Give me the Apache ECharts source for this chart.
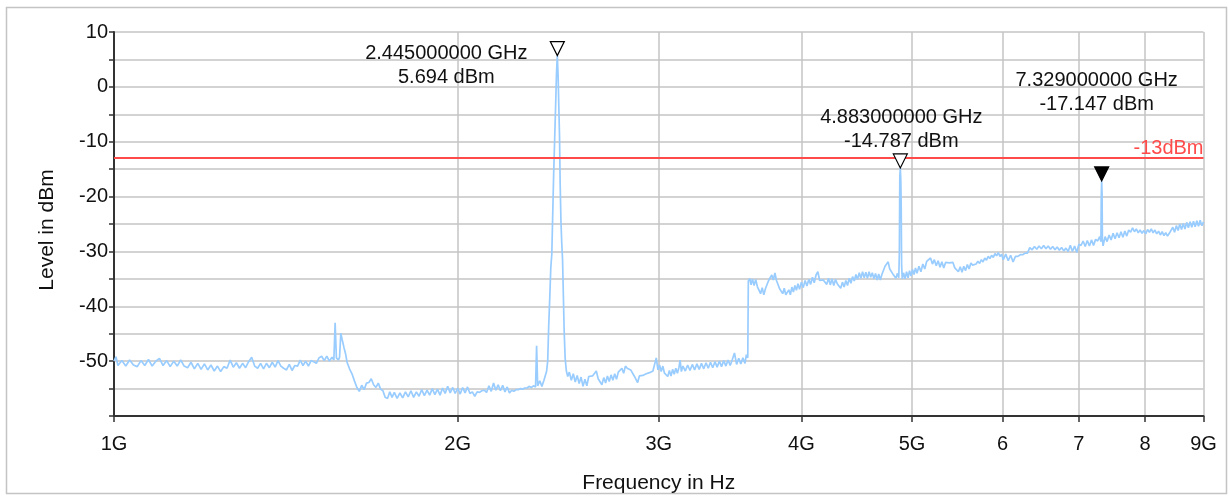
<!DOCTYPE html>
<html>
<head>
<meta charset="utf-8">
<script src="https://cdn.jsdelivr.net/npm/echarts@6/dist/echarts.min.js"></script>
<style>
  html, body { margin: 0; padding: 0; background: #ffffff; }
  #chart { width: 1230px; height: 496px; }
</style>
</head>
<body>
<div id="chart"></div>
<script>
// Spectrum sweep, 1 GHz .. 9 GHz, level in dBm. Pairs are [frequency GHz, level dBm].
const traceLowBand = [
  [1.000,-50.0],[1.004,-49.2],[1.008,-50.8],[1.016,-49.9],[1.024,-50.9],[1.032,-49.8],[1.040,-50.7],[1.048,-51.0],
  [1.056,-49.9],[1.064,-50.8],[1.072,-49.7],[1.080,-50.9],[1.088,-50.0],[1.096,-49.5],[1.104,-50.8],[1.112,-49.9],
  [1.120,-51.0],[1.128,-50.0],[1.136,-50.9],[1.144,-49.8],[1.152,-50.9],[1.160,-51.2],[1.168,-50.2],[1.176,-51.4],
  [1.184,-50.4],[1.192,-51.5],[1.200,-50.5],[1.208,-51.6],[1.216,-50.7],[1.224,-51.8],[1.232,-50.9],[1.240,-51.9],
  [1.248,-51.0],[1.256,-51.3],[1.264,-49.8],[1.272,-51.1],[1.280,-50.3],[1.288,-51.3],[1.296,-50.4],[1.304,-51.2],
  [1.312,-50.1],[1.320,-49.3],[1.328,-50.9],[1.336,-51.3],[1.344,-50.4],[1.352,-51.4],[1.360,-50.4],[1.368,-51.2],
  [1.376,-50.2],[1.384,-51.1],[1.392,-49.9],[1.400,-50.9],[1.408,-51.3],[1.416,-51.6],[1.424,-50.6],[1.432,-51.7],
  [1.440,-50.8],[1.448,-50.9],[1.456,-49.8],[1.464,-50.8],[1.472,-50.0],[1.480,-50.9],[1.488,-49.9],[1.496,-50.1],
  [1.504,-50.4],[1.512,-49.4],[1.520,-49.1],[1.528,-49.9],[1.536,-49.1],[1.544,-50.0],[1.552,-49.3],[1.558,-49.8],
  [1.562,-43.0],[1.566,-49.4],[1.572,-49.8],[1.576,-49.3],[1.580,-44.9],[1.584,-46.0],[1.590,-47.5],[1.595,-48.6]
];

const traceFloor = [
  [1.600,-50.2],[1.608,-51.4],[1.616,-52.3],[1.624,-53.6],[1.632,-54.8],[1.640,-55.5],[1.648,-54.4],[1.656,-55.2],
  [1.664,-54.0],[1.672,-53.9],[1.680,-53.2],[1.688,-54.3],[1.696,-54.8],[1.704,-54.0],[1.712,-55.1],[1.720,-55.4],
  [1.728,-56.6],[1.736,-56.8],[1.744,-55.6],[1.752,-56.6],[1.760,-55.7],[1.770,-56.8],[1.780,-55.8],[1.790,-56.7],
  [1.800,-55.6],[1.810,-56.5],[1.820,-55.4],[1.830,-56.6],[1.840,-55.6],[1.850,-56.4],[1.860,-55.2],[1.870,-56.3],
  [1.880,-55.3],[1.890,-56.2],[1.900,-55.0],[1.910,-56.1],[1.920,-55.1],[1.930,-56.2],[1.940,-54.9],[1.950,-55.9],
  [1.960,-54.6],[1.970,-55.8],[1.980,-54.8],[1.990,-55.9],[2.000,-54.9],[2.010,-56.0],[2.020,-54.8],[2.030,-55.8],
  [2.040,-54.7],[2.050,-55.9],[2.060,-55.6],[2.070,-56.4],[2.080,-55.6],[2.090,-55.7],[2.100,-55.4],[2.110,-55.3],
  [2.120,-55.7],[2.130,-54.5],[2.140,-55.5],[2.150,-54.0],[2.160,-55.3],[2.170,-54.3],[2.180,-55.4],[2.190,-54.4],
  [2.200,-55.6],[2.210,-54.7],[2.220,-55.8],[2.230,-55.3],[2.240,-55.5],[2.250,-55.2],[2.260,-55.2],[2.270,-55.0],
  [2.280,-55.1],[2.290,-54.9],[2.300,-54.9],[2.310,-54.6],[2.320,-54.8],[2.330,-54.5],[2.340,-54.7],[2.345,-47.2],
  [2.350,-54.5],[2.360,-53.6],[2.370,-54.6],[2.380,-53.5],[2.388,-53.6],[2.393,-51.8]
];

const traceCarrier = [
  [2.398,-50.0],[2.403,-43.5],[2.408,-38.5],[2.413,-33.0],[2.418,-30.5],[2.422,-24.0],[2.427,-16.0],[2.432,-9.5],
  [2.437,-3.0],[2.441,2.5],[2.445,5.694],[2.449,2.0],[2.453,-4.5],[2.456,-9.0],[2.459,-17.5],[2.463,-24.5],
  [2.467,-28.5],[2.471,-31.5],[2.475,-38.0],[2.479,-44.5],[2.484,-49.5],[2.490,-51.8],[2.497,-52.8]
];

const traceMidBand = [
  [2.505,-52.0],[2.515,-53.5],[2.525,-52.3],[2.535,-53.8],[2.545,-52.6],[2.555,-54.1],[2.565,-52.9],[2.575,-54.6],
  [2.585,-53.3],[2.595,-54.5],[2.605,-52.8],[2.615,-52.8],[2.625,-52.7],[2.635,-52.5],[2.645,-51.8],[2.655,-53.2],
  [2.665,-53.2],[2.675,-54.3],[2.685,-53.0],[2.695,-54.0],[2.705,-52.7],[2.715,-53.7],[2.725,-52.5],[2.735,-53.5],
  [2.745,-52.3],[2.755,-53.3],[2.765,-52.0],[2.775,-52.3],[2.785,-51.3],[2.795,-52.2],[2.805,-50.9],[2.815,-51.3],
  [2.825,-51.3],[2.835,-51.6],[2.845,-51.4],[2.855,-52.7],[2.865,-52.8],[2.875,-53.9],[2.885,-52.7],[2.895,-52.9],
  [2.905,-52.6],[2.915,-52.6],[2.925,-52.3],[2.935,-52.3],[2.945,-52.1],[2.955,-52.1],[2.965,-51.8],[2.975,-51.8],
  [2.985,-49.4],[2.995,-51.6],[3.005,-50.7],[3.015,-51.9],[3.025,-50.9],[3.035,-52.2],[3.045,-52.0],[3.055,-52.8],
  [3.065,-51.7],[3.075,-52.7],[3.085,-51.5],[3.095,-52.4],[3.105,-51.3],[3.115,-52.2],[3.125,-51.1],[3.132,-49.8],
  [3.140,-51.9],[3.150,-50.9],[3.165,-51.8],[3.180,-50.7],[3.195,-51.7],[3.210,-50.6],[3.225,-51.6],[3.240,-50.5],
  [3.255,-51.5],[3.270,-50.4],[3.285,-51.4],[3.300,-50.3],[3.315,-51.3],[3.330,-50.2],[3.345,-51.2],[3.360,-50.1],
  [3.375,-51.1],[3.390,-50.0],[3.405,-51.0],[3.420,-49.9],[3.435,-50.9],[3.450,-49.8],[3.465,-50.8],[3.480,-49.7],
  [3.495,-48.5],[3.510,-50.6],[3.525,-49.5],[3.540,-50.5],[3.555,-49.4],[3.570,-50.4],[3.580,-48.8],[3.590,-49.4]
];

const traceHighBand = [
  [3.594,-35.4],[3.604,-34.9],[3.614,-36.1],[3.624,-35.0],[3.636,-36.2],[3.648,-35.1],[3.660,-36.4],[3.672,-36.6],
  [3.684,-37.7],[3.696,-36.6],[3.708,-37.9],[3.720,-36.8],[3.732,-36.7],[3.744,-35.3],[3.756,-35.4],[3.768,-34.3],
  [3.780,-35.2],[3.792,-33.9],[3.804,-35.3],[3.816,-35.4],[3.828,-36.8],[3.840,-36.6],[3.852,-37.7],[3.864,-36.7],
  [3.876,-37.9],[3.888,-38.1],[3.900,-37.0],[3.912,-37.9],[3.924,-36.5],[3.936,-37.4],[3.948,-36.2],[3.960,-37.1],
  [3.972,-35.9],[3.985,-36.9],[4.000,-35.6],[4.015,-36.6],[4.030,-35.3],[4.045,-36.3],[4.060,-35.1],[4.075,-36.0],
  [4.090,-34.7],[4.105,-35.7],[4.120,-34.3],[4.135,-33.7],[4.150,-35.3],[4.165,-35.1],[4.180,-35.2],[4.195,-35.2],
  [4.210,-36.0],[4.225,-34.9],[4.240,-36.1],[4.255,-35.0],[4.270,-36.2],[4.285,-35.1],[4.300,-35.9],[4.315,-35.8],
  [4.330,-36.7],[4.345,-35.6],[4.360,-36.5],[4.375,-35.3],[4.390,-36.2],[4.405,-34.9],[4.420,-35.8],[4.435,-34.6],
  [4.450,-35.4],[4.465,-34.2],[4.480,-35.1],[4.495,-33.9],[4.510,-34.9],[4.525,-33.7],[4.540,-34.8],[4.555,-33.8],
  [4.570,-34.9],[4.585,-33.7],[4.600,-34.7],[4.615,-33.9],[4.630,-35.0],[4.645,-34.0],[4.660,-35.2],[4.675,-34.1],
  [4.690,-35.2],[4.705,-34.2],[4.720,-33.9],[4.735,-32.7],[4.750,-32.9],[4.765,-31.9],[4.780,-33.2],[4.795,-33.0],
  [4.810,-34.1],[4.825,-33.8],[4.840,-34.9],[4.855,-34.0],[4.868,-34.8],[4.874,-30.0],[4.878,-16.5],[4.883,-14.787],
  [4.888,-17.0],[4.892,-22.0],[4.896,-32.5],[4.902,-35.0],[4.915,-33.9],[4.930,-35.0],[4.945,-33.7],[4.960,-34.8],
  [4.975,-33.5],[4.990,-34.5],[5.005,-33.3],[5.020,-34.2],[5.035,-33.0],[5.050,-34.0],[5.070,-32.7],[5.090,-33.7],
  [5.110,-32.3],[5.130,-33.2],[5.150,-31.8],[5.170,-32.0],[5.190,-31.2],[5.210,-32.3],[5.230,-31.5],[5.250,-32.6],
  [5.270,-31.7],[5.290,-32.9],[5.310,-31.9],[5.330,-33.0],[5.350,-32.0],[5.370,-32.3],[5.390,-32.1],[5.410,-32.2],
  [5.430,-32.0],[5.450,-33.0],[5.470,-32.7],[5.490,-33.7],[5.510,-32.8],[5.530,-33.8],[5.550,-32.7],[5.570,-33.5],
  [5.590,-32.4],[5.610,-33.2],[5.630,-32.1],[5.650,-32.5],[5.670,-32.3],[5.690,-32.3],[5.710,-31.8],[5.730,-32.2],
  [5.750,-31.5],[5.770,-31.9],[5.790,-31.2],[5.810,-31.6],[5.830,-30.9],[5.850,-31.3],[5.870,-30.7],[5.890,-31.1],
  [5.910,-30.4],[5.930,-30.8],[5.950,-30.2],[5.970,-30.9],[5.990,-30.5],[6.010,-31.5],[6.040,-30.5],[6.070,-31.7],
  [6.100,-30.7],[6.130,-31.9],[6.160,-30.9],[6.190,-30.9],[6.220,-30.6],[6.250,-30.6],[6.280,-30.3],[6.310,-30.3],
  [6.340,-29.3],[6.370,-29.7],[6.400,-29.1],[6.430,-29.6],[6.460,-29.0],[6.490,-29.5],[6.520,-28.9],[6.550,-29.5],
  [6.580,-29.0],[6.610,-29.6],[6.640,-29.1],[6.670,-29.7],[6.700,-29.2],[6.730,-29.8],[6.760,-29.3],[6.790,-29.9],
  [6.820,-29.4],[6.850,-30.0],[6.880,-28.9],[6.910,-30.0],[6.940,-29.0],[6.970,-30.2],[7.000,-28.7],[7.030,-28.9],
  [7.060,-28.1],[7.090,-29.1],[7.120,-28.0],[7.150,-29.0],[7.180,-27.9],[7.210,-28.9],[7.240,-27.8],[7.270,-28.1],
  [7.300,-27.3],[7.318,-28.2],[7.323,-20.0],[7.329,-17.147],[7.335,-19.5],[7.340,-27.8],[7.350,-29.0],[7.380,-27.3],
  [7.410,-28.2],[7.440,-27.0],[7.470,-27.9],[7.500,-26.7],[7.530,-27.7],[7.560,-26.6],[7.590,-27.5],[7.620,-26.4],
  [7.650,-27.4],[7.680,-26.3],[7.710,-27.2],[7.740,-26.1],[7.770,-26.5],[7.800,-25.7],[7.830,-26.4],[7.860,-25.9],
  [7.890,-26.6],[7.920,-26.1],[7.950,-26.7],[7.980,-26.2],[8.010,-26.8],[8.040,-26.0],[8.070,-26.5],[8.100,-25.9],
  [8.130,-26.6],[8.160,-26.1],[8.190,-26.8],[8.220,-26.3],[8.250,-27.0],[8.280,-26.4],[8.310,-27.1],[8.340,-26.6],
  [8.370,-27.2],[8.400,-26.7],[8.430,-26.7],[8.460,-25.6],[8.490,-26.5],[8.520,-25.3],[8.550,-26.2],[8.580,-25.0],
  [8.610,-26.0],[8.640,-24.9],[8.670,-25.9],[8.700,-24.7],[8.730,-25.7],[8.760,-24.6],[8.790,-25.6],[8.820,-24.5],
  [8.850,-25.5],[8.880,-24.4],[8.910,-25.4],[8.940,-24.3],[8.970,-25.3],[9.000,-24.6]
];

// Frequency axis ticks (GHz) and the text under each one
const freqTicks = [1, 2, 3, 4, 5, 6, 7, 8, 9];
const freqTickLabels = ['1G', '2G', '3G', '4G', '5G', '6', '7', '8', '9G'];

// Peak markers
const markerFreqGHz = [2.445, 4.883, 7.329];
const markerLevelDbm = [5.694, -14.787, -17.147];
const markerActive = [false, false, true];

// Limit line
const limitDbm = -13;

// Marker label placement relative to the triangle centre (px)
const markerLabelOffsets = [[-111, 17], [1, -31], [-5, -81]];

const trace = traceLowBand.concat(traceFloor, traceCarrier, traceMidBand, traceHighBand);

const chart = echarts.init(document.getElementById('chart'), null, { renderer: 'canvas' });

const FONT = 'Liberation Sans, Arial, sans-serif';
const downTriangle = 'path://M0,0 L14,0 L7,14 Z';

const markerData = markerFreqGHz.map((f, i) => ({
  coord: [f, markerLevelDbm[i]],
  symbol: downTriangle,
  symbolSize: [14, 14],
  symbolOffset: [0, '-50%'],
  itemStyle: {
    color: markerActive[i] ? '#000000' : '#ffffff',
    borderColor: '#000000',
    borderWidth: 1.2
  },
  label: {
    show: true,
    position: 'inside',
    offset: markerLabelOffsets[i],
    formatter: f.toFixed(9) + ' GHz\n' + markerLevelDbm[i].toFixed(3) + ' dBm',
    color: '#111111',
    fontFamily: FONT,
    fontSize: 20,
    lineHeight: 24,
    align: 'center',
    verticalAlign: 'middle'
  }
}));

const option = {
  animation: false,
  backgroundColor: '#ffffff',
  grid: { left: 114, right: 26.5, top: 32, bottom: 80, outerBoundsMode: 'none', containLabel: false },
  graphic: [{
    type: 'rect',
    silent: true,
    shape: { x: 6.5, y: 7.5, width: 1220, height: 486 },
    style: { fill: 'none', stroke: '#c4c4c4', lineWidth: 1.5 }
  }],
  xAxis: {
    type: 'log',
    logBase: 10,
    min: 1,
    max: 9,
    name: 'Frequency in Hz',
    nameLocation: 'middle',
    nameGap: 57,
    nameTextStyle: { color: '#111111', fontFamily: FONT, fontSize: 21 },
    axisLine: { show: true, onZero: false, lineStyle: { color: '#333333', width: 2 } },
    axisTick: { show: true, customValues: freqTicks, length: 6, lineStyle: { color: '#333333', width: 1.5 } },
    axisLabel: {
      customValues: freqTicks,
      margin: 18,
      color: '#111111',
      fontFamily: FONT,
      fontSize: 20,
      formatter: (v) => freqTickLabels[freqTicks.indexOf(Math.round(v))]
    },
    splitLine: { show: true, lineStyle: { color: '#c4c4c4', width: 1.5 } }
  },
  yAxis: {
    type: 'value',
    min: -60,
    max: 10,
    interval: 5,
    name: 'Level in dBm',
    nameLocation: 'middle',
    nameGap: 56,
    nameTextStyle: { color: '#111111', fontFamily: FONT, fontSize: 21, padding: [0, 12, 0, 0] },
    axisLine: { show: true, onZero: false, lineStyle: { color: '#333333', width: 2 } },
    axisTick: { show: true, length: 5, lineStyle: { color: '#333333', width: 1.5 } },
    axisLabel: {
      margin: 6,
      color: '#111111',
      fontFamily: FONT,
      fontSize: 20,
      formatter: (v) => (v % 10 === 0 && v > -60) ? String(v) : ''
    },
    splitLine: { show: true, lineStyle: { color: '#c4c4c4', width: 1.5 } }
  },
  series: [{
    type: 'line',
    data: trace,
    symbol: 'none',
    showSymbol: false,
    lineStyle: { color: '#99ccff', width: 1.7 },
    z: 3,
    markLine: {
      silent: true,
      symbol: ['none', 'none'],
      lineStyle: { color: '#ff4a4a', width: 2, type: 'solid' },
      label: {
        show: true,
        position: 'insideEndTop',
        distance: 0,
        formatter: limitDbm + 'dBm',
        color: '#ff4a4a',
        fontFamily: FONT,
        fontSize: 20
      },
      data: [{ yAxis: limitDbm }]
    },
    markPoint: {
      silent: true,
      data: markerData
    }
  }]
};

chart.setOption(option);
</script>
</body>
</html>
